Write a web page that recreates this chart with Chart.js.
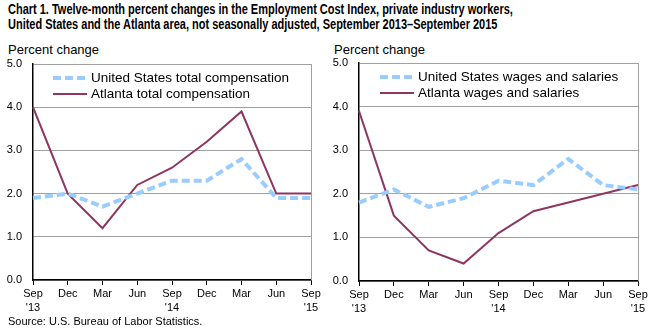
<!DOCTYPE html>
<html lang="en">
<head>
<meta charset="UTF-8">
<title>ECI Atlanta</title>
<script src="https://cdn.jsdelivr.net/npm/chart.js"></script>
<style>
  body { margin: 0; background: #fff; font-family: "Liberation Sans", Arial, sans-serif; }
  #wrap { position: relative; width: 659px; height: 333px; overflow: hidden; }
  .title { position: absolute; left: 8px; top: 2px; font-family: "Liberation Sans", Arial, sans-serif;
           font-weight: bold; font-size: 14px; line-height: 15px; color: #000; white-space: nowrap;
           transform: scaleX(0.785); transform-origin: left top; }
  .unit { position: absolute; font-size: 13px; color: #000; }
  .source { position: absolute; left: 8px; top: 315px; font-size: 11px; color: #000; }
  canvas { position: absolute; top: 0; }
</style>
</head>
<body>
<div id="wrap">
  <div class="title">Chart 1. Twelve-month percent changes in the Employment Cost Index, private industry workers,<br>United States and the Atlanta area, not seasonally adjusted, September 2013–September 2015</div>
  <div class="unit" style="left:8px;top:42px;">Percent change</div>
  <div class="unit" style="left:334px;top:42px;">Percent change</div>
  <canvas id="leftChart" width="330" height="333" style="left:0;width:330px;height:333px;"></canvas>
  <canvas id="rightChart" width="329" height="333" style="left:330px;width:329px;height:333px;"></canvas>
  <div class="source">Source: U.S. Bureau of Labor Statistics.</div>
</div>
<script>
  const quarters = [['Sep', "'13"], 'Dec', 'Mar', 'Jun', ['Sep', "'14"], 'Dec', 'Mar', 'Jun', ['Sep', "'15"]];

  const usTotal = [1.9, 2.0, 1.7, 2.0, 2.3, 2.3, 2.8, 1.9, 1.9];
  const atlTotal = [4.0, 2.0, 1.2, 2.2, 2.6, 3.2, 3.9, 2.0, 2.0];
  const usWages = [1.8, 2.1, 1.7, 1.9, 2.3, 2.2, 2.8, 2.2, 2.1];
  const atlWages = [3.9, 1.5, 0.7, 0.4, 1.1, 1.6, 1.8, 2.0, 2.2];

  const blue = '#99ccff';
  const maroon = '#8e3562';

  // legend inside the plot area + gray right border
  const insideLegend = {
    id: 'insideLegend',
    afterDatasetsDraw(chart, args, opts) {
      const { ctx, chartArea } = chart;
      ctx.save();
      ctx.strokeStyle = '#a0a0a0';
      ctx.lineWidth = 1;
      ctx.beginPath();
      ctx.moveTo(Math.round(chartArea.right) + 0.5, chartArea.top);
      ctx.lineTo(Math.round(chartArea.right) + 0.5, chartArea.bottom);
      ctx.stroke();

      chart.data.datasets.forEach((ds, i) => {
        const y = chartArea.top + 14 + i * 16;
        const x0 = chartArea.left + opts.offset;
        ctx.strokeStyle = ds.borderColor;
        ctx.lineWidth = ds.borderWidth;
        ctx.setLineDash(ds.borderDash || []);
        ctx.beginPath();
        ctx.moveTo(x0, y);
        ctx.lineTo(x0 + 34, y);
        ctx.stroke();
        ctx.setLineDash([]);
        ctx.fillStyle = '#000';
        ctx.font = '13.5px "Liberation Sans", Arial, sans-serif';
        ctx.textBaseline = 'middle';
        ctx.fillText(ds.label, x0 + 38, y);
      });
      ctx.restore();
    }
  };

  function makeChart(id, usData, atlData, usLabel, atlLabel, pad, axisW, legendOffset) {
    const ctx = document.getElementById(id).getContext('2d');
    return new Chart(ctx, {
      type: 'line',
      data: {
        labels: quarters,
        datasets: [
          { label: usLabel, data: usData, borderColor: blue, borderWidth: 4, borderDash: [8, 4], pointRadius: 0, tension: 0, fill: false },
          { label: atlLabel, data: atlData, borderColor: maroon, borderWidth: 2, pointRadius: 0, tension: 0, fill: false }
        ]
      },
      options: {
        responsive: false,
        animation: false,
        layout: { padding: pad },
        plugins: {
          legend: { display: false },
          tooltip: { enabled: false },
          insideLegend: { offset: legendOffset }
        },
        scales: {
          x: {
            offset: false,
            grid: { drawOnChartArea: false, drawTicks: true, tickLength: 5, color: '#000' },
            border: { color: '#000', width: 1.5 },
            ticks: { color: '#000', font: { size: 11, lineHeight: 1.25, family: '"Liberation Sans", Arial, sans-serif' }, maxRotation: 0, autoSkip: false, padding: 2 },
            afterFit(scale) { scale.height = 333 - pad.top - pad.bottom - (pad.plotH); }
          },
          y: {
            min: 0, max: 5,
            grid: { color: '#a0a0a0', drawTicks: false },
            border: { color: '#000', width: 1.5 },
            ticks: { stepSize: 1, color: '#000', padding: 11, font: { size: 11, family: '"Liberation Sans", Arial, sans-serif' }, callback: v => v.toFixed(1) },
            afterFit(scale) { scale.width = axisW; }
          }
        }
      },
      plugins: [insideLegend]
    });
  }

  makeChart('leftChart', usTotal, atlTotal, 'United States total compensation', 'Atlanta total compensation',
    { left: 0, right: 19, top: 64, bottom: 0, plotH: 216 }, 33, 20);
  makeChart('rightChart', usWages, atlWages, 'United States wages and salaries', 'Atlanta wages and salaries',
    { left: 0, right: 21, top: 63, bottom: 0, plotH: 218 }, 29, 21);
</script>
</body>
</html>
